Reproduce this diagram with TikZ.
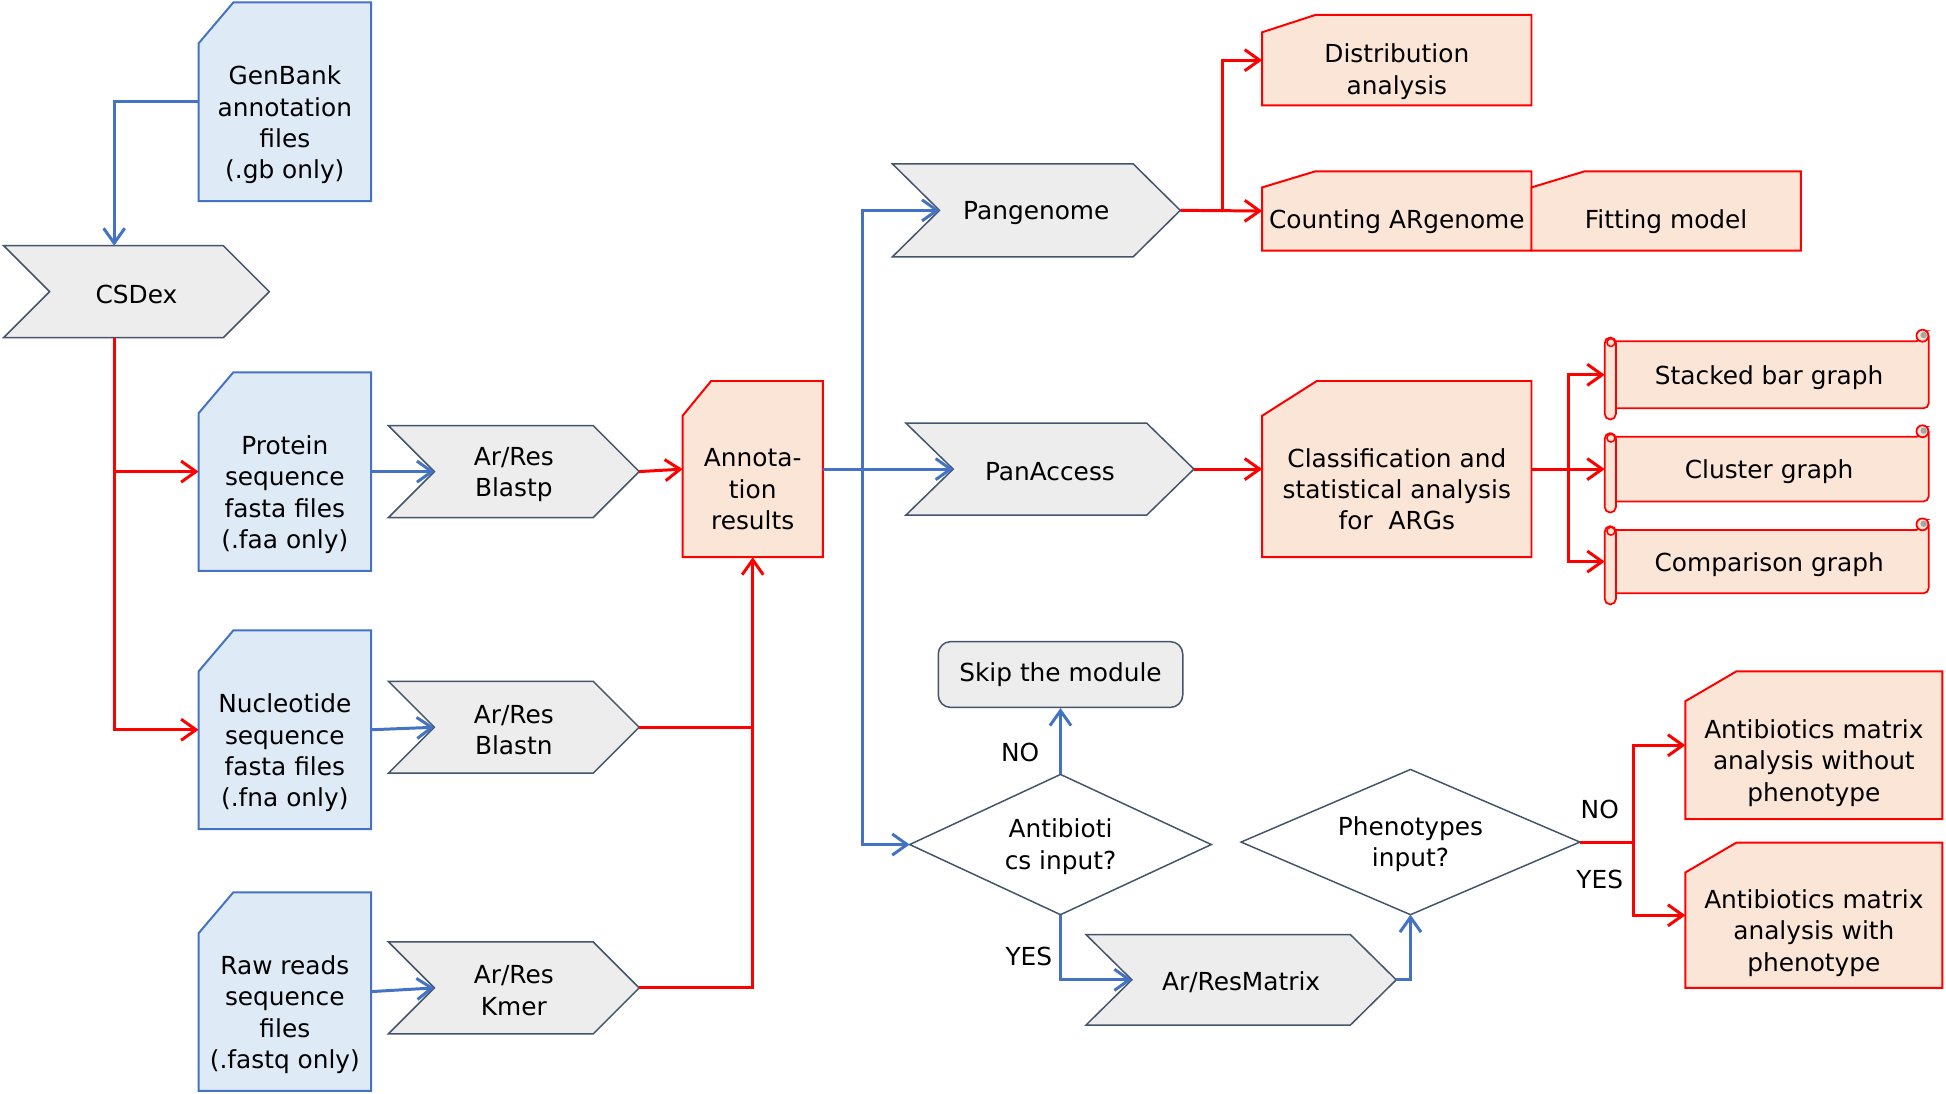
\documentclass[tikz,border=0pt]{standalone}
\usepackage{fontspec}
\setmainfont{DejaVu Sans}
\usetikzlibrary{arrows.meta,calc}

\definecolor{docblue}{HTML}{DEEBF7}
\definecolor{lineblue}{HTML}{4472C4}
\definecolor{peach}{HTML}{FBE5D6}
\definecolor{lred}{HTML}{FF0000}
\definecolor{chevgray}{HTML}{EDEDED}
\definecolor{slate}{HTML}{44546A}
\definecolor{curlgray}{HTML}{A6A6A6}

\tikzset{
  bluedoc/.style={draw=lineblue, fill=docblue, line width=0.8pt},
  reddoc/.style={draw=lred, fill=peach, line width=0.8pt},
  graysh/.style={draw=slate, fill=chevgray, line width=0.6pt},
  diasty/.style={draw=slate, fill=white, line width=0.6pt},
  boxnode/.style={draw=none, inner sep=0pt, outer sep=0pt},
  txt/.style={align=center, font=\fontsize{10}{12.65}\selectfont, inner sep=0pt},
  bconn/.style={draw=lineblue, line width=1.2pt},
  rconn/.style={draw=lred, line width=1.2pt},
  arr/.style={-{Straight Barb[length=6pt,width=8.5pt]}},
  lbl/.style={txt},
}

% name, style, x1, y1, x2, y2, cut width, cut height, text
\newcommand\docshape[9]{%
  \draw[#2] (#3,{#4+#8}) -- ({#3+#7},#4) -- (#5,#4) -- (#5,#6) -- (#3,#6) -- cycle;
  \node[boxnode, minimum width={(#5-#3)*0.5pt}, minimum height={(#6-#4)*0.5pt}] (#1) at ({(#3+#5)/2},{(#4+#6)/2}) {};
  \node[txt] (#1-t) at ([yshift={-#8*0.25pt-1.1pt}]#1.center) {#9};
}
% name, x1, y1, x2 (tip), y2, depth, text
\newcommand\chevshape[7]{%
  \draw[graysh] (#2,#3) -- ({#4-#6},#3) -- (#4,{(#3+#5)/2}) -- ({#4-#6},#5) -- (#2,#5) -- ({#2+#6},{(#3+#5)/2}) -- cycle;
  \node[boxnode, minimum width={(#4-#2)*0.5pt}, minimum height={(#5-#3)*0.5pt}] (#1) at ({(#2+#4)/2},{(#3+#5)/2}) {};
  \node[txt] (#1-t) at ([yshift=-1.1pt]#1.center) {#7};
}
% name, xl, yt, xr, yb, text
\newcommand\diamshape[6]{%
  \draw[diasty] (#2,{(#3+#5)/2}) -- ({(#2+#4)/2},#3) -- (#4,{(#3+#5)/2}) -- ({(#2+#4)/2},#5) -- cycle;
  \node[boxnode, minimum width={(#4-#2)*0.5pt}, minimum height={(#5-#3)*0.5pt}] (#1) at ({(#2+#4)/2},{(#3+#5)/2}) {};
  \node[txt] (#1-t) at ([yshift=-0.8pt]#1.center) {#6};
}
% name, x1, y1, x2, y2, text
\newcommand\scrollshape[6]{%
  \draw[reddoc, line width=0.7pt, rounded corners=2pt] ({#2+4},#3) -- ({#4-6},#3) -- ({#4-6},{#3-8}) -- (#4,{#3-8}) -- (#4,#5) -- ({#2+4},#5) -- cycle;
  \draw[reddoc, line width=0.7pt] ({#4-5},{#3-4.5}) circle (2.4pt);
  \fill[curlgray] ({#4-4},{#3-5}) circle (1.3pt);
  \draw[reddoc, line width=0.7pt, rounded corners=2.2pt] (#2,{#3-3}) rectangle ({#2+9},{#5+9});
  \draw[lred, line width=0.6pt] ({#2+5},{#3+1}) circle (1.6pt);
  \node[boxnode, minimum width={(#4-#2)*0.5pt}, minimum height={(#5-#3)*0.5pt}] (#1) at ({(#2+#4)/2},{(#3+#5)/2}) {};
  \node[txt] (#1-t) at ([xshift=1pt,yshift=-1.1pt]#1.center) {#6};
}

\begin{document}
\begin{tikzpicture}[x=0.5pt,y=-0.5pt]
\useasboundingbox[fill=white] (0,0) rectangle (1568,881);

% ---- inputs
\docshape{genbank}{bluedoc}{160}{2}{299}{162}{28}{33}{GenBank\\annotation\\files\\(.gb only)}
\chevshape{csdex}{3}{198}{217}{272}{37}{CSDex}
\docshape{prot}{bluedoc}{160}{300}{299}{460}{28}{33}{Protein\\sequence\\fasta files\\(.faa only)}
\docshape{nuc}{bluedoc}{160}{508}{299}{668}{28}{33}{Nucleotide\\sequence\\fasta files\\(.fna only)}
\docshape{raw}{bluedoc}{160}{719}{299}{879}{28}{33}{Raw reads\\sequence\\files\\(.fastq only)}
\chevshape{blastp}{313}{343}{515}{417}{37}{Ar/Res\\Blastp}
\chevshape{blastn}{313}{549}{515}{623}{37}{Ar/Res\\Blastn}
\chevshape{kmer}{313}{759}{515}{833}{37}{Ar/Res\\Kmer}
\docshape{annot}{reddoc}{550}{307}{663}{449}{23}{28}{Annota-\\tion\\results}

% ---- modules
\chevshape{pang}{719}{132}{951}{207}{38}{Pangenome}
\chevshape{panacc}{730}{341}{962}{415}{38}{PanAccess}
\docshape{dist}{reddoc}{1017}{12}{1234}{85}{43}{14}{Distribution\\analysis}
\docshape{count}{reddoc}{1017}{138}{1234}{202}{43}{13}{Counting ARgenome}
\docshape{fit}{reddoc}{1234}{138}{1451}{202}{43}{13}{Fitting model}
\docshape{class}{reddoc}{1017}{307}{1234}{449}{44}{28}{Classification and\\statistical analysis\\for\ \ ARGs}
\scrollshape{stack}{1293}{275}{1554}{329}{Stacked bar graph}
\scrollshape{clus}{1293}{352}{1554}{404}{Cluster graph}
\scrollshape{comp}{1293}{427}{1554}{478}{Comparison graph}

\node[graysh, txt, rounded corners=5pt, minimum width=98.5pt, minimum height=26.5pt] (skip) at (854.5,543.5) {Skip the module};
\diamshape{anti}{733}{624}{976}{737}{Antibioti\\cs input?}
\chevshape{resm}{875}{753}{1125}{826}{37}{Ar/ResMatrix}
\diamshape{pheno}{1000}{620}{1273}{737}{Phenotypes\\input?}
\docshape{abwo}{reddoc}{1358}{541}{1565}{660}{41}{24}{Antibiotics matrix\\analysis without\\phenotype}
\docshape{abw}{reddoc}{1358}{679}{1565}{796}{41}{24}{Antibiotics matrix\\analysis with\\phenotype}

% ---- connectors
\draw[bconn,arr] (genbank.west) -| ([xshift=-9pt]csdex.north);
\draw[rconn,arr] ([xshift=-9pt]csdex.south) |- (prot.west);
\draw[rconn,arr] ([xshift=-9pt]csdex.south) |- (nuc.west);

\draw[bconn,arr] (prot.east) -- ([xshift=18.5pt]blastp.west);
\draw[bconn,arr] (nuc.east) -- ([xshift=18.5pt]blastn.west);
\draw[bconn,arr] (raw.east) -- ([xshift=18.5pt]kmer.west);

\draw[rconn,arr] (blastp.east) -- (annot.west);
\draw[rconn] (blastn.east) -- (blastn.east -| annot.south);
\draw[rconn,arr] (kmer.east) -| (annot.south);

\coordinate (bv) at (695,378);
\draw[bconn,arr] (annot.east) -- ([xshift=19pt]panacc.west);
\draw[bconn,arr] (bv) |- ([xshift=19pt]pang.west);
\draw[bconn,arr] (bv) |- (anti.west);

\coordinate (rj) at (985,169.5);
\draw[rconn,arr] (pang.east) -- (count.west);
\draw[rconn,arr] (rj) |- (dist.west);

\draw[rconn,arr] (panacc.east) -- (class.west);
\coordinate (cj) at (1264,378);
\draw[rconn] (class.east) -- (cj);
\draw[rconn,arr] (cj) |- (stack.west);
\draw[rconn,arr] (cj) |- (clus.west);
\draw[rconn,arr] (cj) |- (comp.west);

\draw[bconn,arr] (anti.north) -- (skip.south);
\draw[bconn,arr] (anti.south) |- ([xshift=18.5pt]resm.west);
\draw[bconn,arr] (resm.east) -| (pheno.south);

\coordinate (pj) at (1316,678.5);
\draw[rconn] (pheno.east) -- (pj);
\draw[rconn,arr] (pj) |- (abwo.west);
\draw[rconn,arr] (pj) |- (abw.west);

% ---- labels
\node[lbl] (no1) at (822,606) {NO};
\node[lbl] (yes1) at (829,771) {YES};
\node[lbl] (no2) at (1289,652) {NO};
\node[lbl] (yes2) at (1289,709) {YES};
\end{tikzpicture}
\end{document}
